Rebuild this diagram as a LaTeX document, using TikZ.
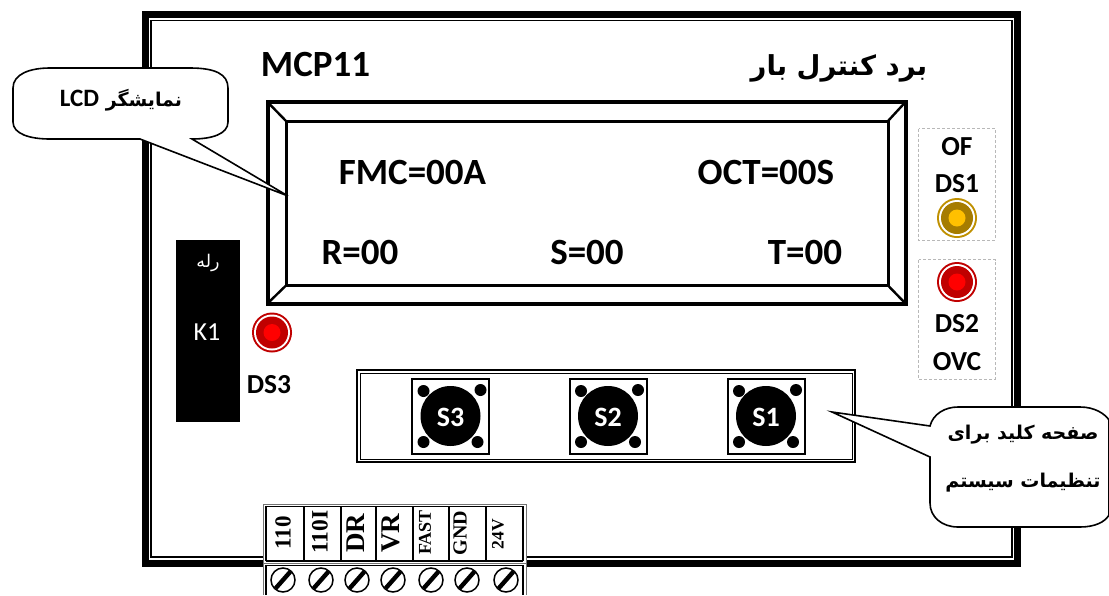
\documentclass[tikz,border=0pt]{standalone}
\usepackage{fontspec}
\setmainfont{Carlito}
\newfontfamily\arabicfont[Script=Arabic]{DejaVu Sans}
\newfontfamily\serifbold{Liberation Serif}
\TeXXeTstate=1
\newcommand{\fsz}[1]{\fontsize{#1pt}{#1pt}\selectfont}
\definecolor{ledred}{HTML}{C00000}
\definecolor{ledredcore}{HTML}{FF0000}
\definecolor{ledamb}{HTML}{BF9000}
\definecolor{ledambdark}{HTML}{A67C00}
\definecolor{ledambcore}{HTML}{FFC000}
\tikzset{
  x=1pt,y=-1pt,
  lcdtext/.style={font=\bfseries\fsz{37},inner sep=0pt},
  sidetext/.style={font=\bfseries\fsz{27.5},inner sep=0pt},
  btntext/.style={font=\bfseries\fsz{28},text=white,inner sep=0pt},
  callout/.style={draw=black,line width=1.6pt,fill=white,line join=miter},
  sidebox/.style={draw=black!28,line width=0.7pt,densely dashed},
  termlabel/.style={rotate=90,inner sep=0pt},
}
\newcommand{\led}[4]{% x,y,ring,core
  \fill[#3] (#1,#2) circle[radius=20];
  \fill[white] (#1,#2) circle[radius=18];
  \fill[#3] (#1,#2) circle[radius=16];
  \fill[#4] (#1,#2) circle[radius=8.5];
}
\newcommand{\keybtn}[2]{%
  \draw[line width=2pt,draw=black,fill=white] (#1-38.5,378.5) rectangle (#1+38.5,454);
  \fill (#1,416) circle[radius=30];
  \foreach \dx/\dy in {-27/-25,30/-26,-27/26,27/26}{\fill (#1+\dx,416+\dy) circle[radius=6];}
  \node[btntext] (#2) at (#1,417) {#2};
}
\newcommand{\screw}[1]{%
  \draw[line width=1.5pt,fill=white] (#1,580) circle[radius=12];
  \draw[line width=4.4pt] (#1-7.5,588.5) -- (#1+7.5,571.5);
}
\begin{document}
\begin{tikzpicture}
\useasboundingbox (0,0) rectangle (1109,595);
% frame
\draw[line width=7pt] (145.5,14.5) rectangle (1017.5,563.5);
\draw[line width=1.4pt] (151,20.5) rectangle (1012,557);
% titles
\node[font=\bfseries\fsz{37},inner sep=0pt] (mcp) at (315.5,64) {MCP11};
\node[font=\arabicfont\bfseries\fsz{27.5},inner sep=0pt] (title) at (839,68) {\beginR برد کنترل بار\endR};
% LCD
\draw[line width=4pt,line join=miter] (267.5,102) rectangle (905.5,303.5);
\draw[line width=3pt,line join=miter] (286,121) rectangle (888,285.5);
\draw[line width=2.4pt] (267.5,102) -- (286,121) (905.5,102) -- (888,121) (267.5,303.5) -- (286,285.5) (905.5,303.5) -- (888,285.5);
\node[lcdtext] (fmc) at (412.5,172) {FMC=00A};
\node[lcdtext] (oct) at (766,172) {OCT=00S};
\node[lcdtext] (r) at (360,252) {R=00};
\node[lcdtext] (s) at (587,252) {S=00};
\node[lcdtext] (t) at (805,252) {T=00};
% side LEDs
\draw[sidebox] (918.5,128.5) rectangle (995,240);
\draw[sidebox] (918.5,259.5) rectangle (995,379);
\node[sidetext] (of) at (957,147) {OF};
\node[sidetext] (ds1) at (957,184) {DS1};
\fill[ledamb] (957,218) circle[radius=20];
\fill[white] (957,218) circle[radius=18];
\fill[ledambdark] (957,218) circle[radius=16];
\fill[ledambcore] (957,218) circle[radius=8.5];
\led{957}{282}{ledred}{ledredcore}
\node[sidetext] (ds2) at (957,324) {DS2};
\node[sidetext] (ovc) at (957,362) {OVC};
% relay
\fill[black] (176,239.5) rectangle (239.5,422);
\node[text=white,font=\arabicfont\fsz{17.5},inner sep=0pt] (rele) at (208,263) {\beginR رله\endR};
\node[text=white,font=\fsz{26},inner sep=0pt] (k1) at (207,332) {K1};
\led{272}{332.5}{ledred}{ledredcore}
\node[sidetext] (ds3) at (269,385) {DS3};
% keypad
\draw[line width=2pt,line join=miter] (357,370) rectangle (855,462);
\draw[line width=1pt,line join=miter] (360,373) rectangle (852,459);
\keybtn{450.5}{S3}
\keybtn{608}{S2}
\keybtn{766}{S1}
% callout LCD
\draw[callout] (13,88) .. controls (13,74) and (30,68) .. (50,68) -- (190,68) .. controls (215,68) and (228,74) .. (228,88) -- (228,122) .. controls (228,134) and (212,139) .. (192,139) -- (288,196) -- (140,139) -- (50,139) .. controls (30,139) and (13,134) .. (13,122) -- cycle;
\node[inner sep=0pt] (lcdcall) at (121,100) {\arabicfont\bfseries\fsz{19}\beginR نمایشگر \beginL{\normalfont\bfseries\fsz{25}LCD}\endL\endR};
% callout keypad
\draw[callout] (930,426) .. controls (933,414) and (945,407) .. (958,407) -- (1080,407) .. controls (1095,407) and (1105,414) .. (1109,420) -- (1109,515) .. controls (1105,522) and (1095,527) .. (1080,527) -- (958,527) .. controls (942,527) and (930,517) .. (930,503) -- (930,457) -- (832,412) -- cycle;
\node[font=\arabicfont\bfseries\fsz{19},inner sep=0pt] (kp1) at (1023,435) {\beginR صفحه کلید برای\endR};
\node[font=\arabicfont\bfseries\fsz{19},inner sep=0pt] (kp2) at (1023,483) {\beginR تنظیمات سیستم\endR};
% terminal block
\fill[white] (263,504) rectangle (526,595);
\draw[black!55,line width=1pt] (263,595) -- (263,504) -- (526,504) -- (526,595);
\draw[line width=1.8pt] (266,561) -- (266,506.5) -- (523,506.5) -- (523,561);
\foreach \xx in {304,341,376,413,449,486}{\draw[line width=1.2pt] (\xx,506.5) -- (\xx,561);}
\draw[line width=1.2pt] (266,561) -- (523,561);
\draw[line width=1.4pt] (266,595) -- (266,565.5) -- (523,565.5) -- (523,595);
\draw[black!55,line width=1pt] (263,563) -- (526,563);
\node[termlabel,font=\serifbold\bfseries\fsz{23}] (t1) at (283,533) {110};
\node[termlabel,font=\serifbold\bfseries\fsz{23.5}] (t2) at (320,532) {110I};
\node[termlabel,font=\serifbold\bfseries\fsz{27}] (t3) at (356,533) {DR};
\node[termlabel,font=\serifbold\bfseries\fsz{27}] (t4) at (391,533) {VR};
\node[termlabel,font=\serifbold\bfseries\fsz{18}] (t5) at (425,532.5) {FAST};
\node[termlabel,font=\serifbold\bfseries\fsz{20}] (t6) at (460,533) {GND};
\node[termlabel,font=\serifbold\bfseries\fsz{17.5}] (t7) at (498,534) {24V};
\screw{283}\screw{321}\screw{357}\screw{393}\screw{431}\screw{467}\screw{506}
\end{tikzpicture}
\end{document}
